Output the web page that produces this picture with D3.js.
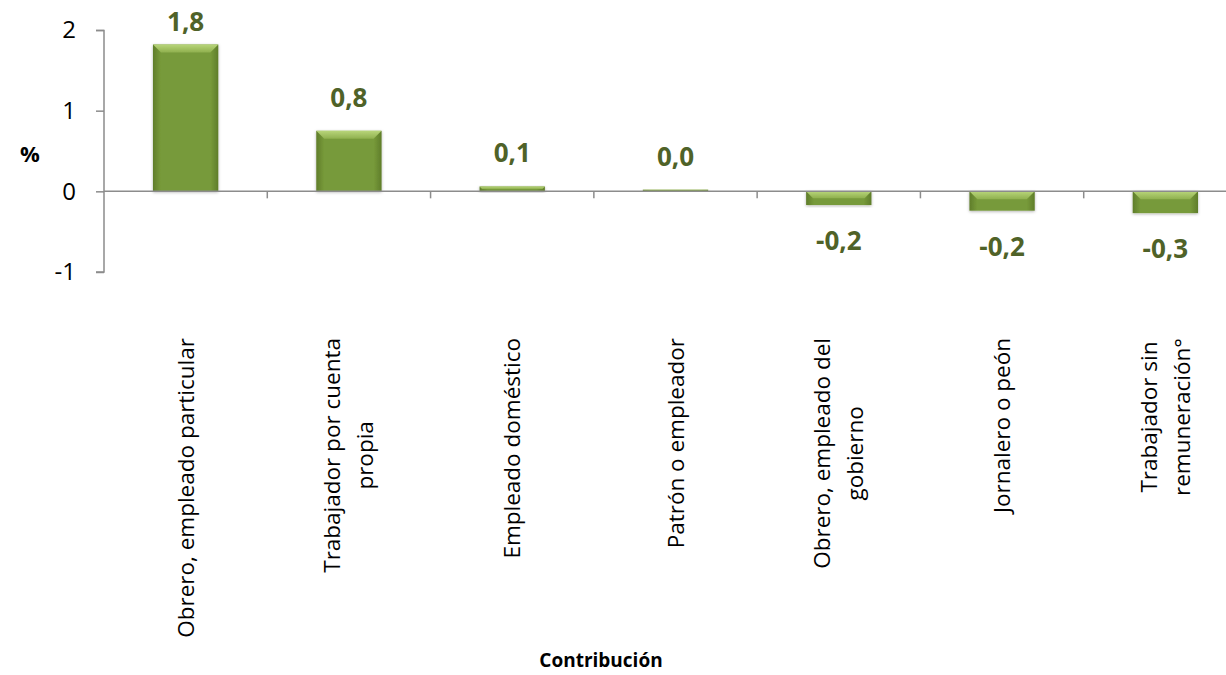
<!DOCTYPE html>
<html>
<head>
<meta charset="utf-8">
<script src="https://cdn.jsdelivr.net/npm/d3@7"></script>
<style>
  body { margin: 0; background: #fff; }
  text { font-family: "Open Sans", sans-serif; }
</style>
</head>
<body>
<svg width="1226" height="675"></svg>
<script>
var categories = [
  ["Obrero, empleado particular"],
  ["Trabajador por cuenta", "propia"],
  ["Empleado doméstico"],
  ["Patrón o empleador"],
  ["Obrero, empleado del", "gobierno"],
  ["Jornalero o peón"],
  ["Trabajador sin", "remuneración°"]
];
var values = [1.82, 0.75, 0.06, 0.02, -0.17, -0.24, -0.27];
var yTicks = [-1, 0, 1, 2];

var svg = d3.select("svg"),
    margin = {top: 30, left: 104},
    plotW = 1143,
    g = svg.append("g").attr("transform", "translate(" + margin.left + "," + margin.top + ")");

var x = d3.scaleBand().domain(d3.range(categories.length)).range([0, plotW]).paddingInner(0.6).paddingOuter(0.3);
var y = d3.scaleLinear().domain([-1, 2]).range([242, 0]);

var defs = svg.append("defs");
var grad = defs.append("linearGradient").attr("id", "barFill").attr("x1", 0).attr("x2", 1).attr("y1", 0).attr("y2", 0);
grad.append("stop").attr("offset", "0%").attr("stop-color", "#5f7d2a");
grad.append("stop").attr("offset", "12%").attr("stop-color", "#779a3a");
grad.append("stop").attr("offset", "88%").attr("stop-color", "#779a3a");
grad.append("stop").attr("offset", "100%").attr("stop-color", "#5f7d2a");
var bev = defs.append("linearGradient").attr("id", "bevel").attr("x1", 0).attr("x2", 0).attr("y1", 0).attr("y2", 1);
bev.append("stop").attr("offset", "0%").attr("stop-color", "#b8d57a");
bev.append("stop").attr("offset", "100%").attr("stop-color", "#8fb04e");
defs.append("filter").attr("id", "shadow").attr("x", "-20%").attr("y", "-20%").attr("width", "140%").attr("height", "140%")
  .append("feDropShadow").attr("dx", 0).attr("dy", 1).attr("stdDeviation", 1.5).attr("flood-color", "#000").attr("flood-opacity", 0.3);

// y axis
var yAxis = g.append("g").call(d3.axisLeft(y).tickValues(yTicks).tickSize(8).tickFormat(function(d) { return String(d); }));
yAxis.select(".domain").attr("stroke", "#8c8c8c").attr("stroke-width", 1.5).attr("d", "M-8,0.5H0V242H-8");
yAxis.selectAll(".tick line").attr("stroke", "#8c8c8c").attr("stroke-width", 1.5);
yAxis.selectAll(".tick text").attr("font-size", 24).attr("fill", "#000").attr("x", -28).attr("font-family", "Open Sans, sans-serif");

g.append("text").attr("x", -84).attr("y", 132).attr("font-size", 22).attr("font-weight", "bold").text("%");

// bars
var bars = g.selectAll(".bar").data(values).enter().append("g").attr("class", "bar").attr("filter", "url(#shadow)");
bars.append("rect")
  .attr("x", function(d, i) { return x(i); })
  .attr("y", function(d) { return y(Math.max(0, d)); })
  .attr("width", x.bandwidth())
  .attr("height", function(d) { return Math.abs(y(d) - y(0)); })
  .attr("fill", "url(#barFill)");
bars.append("path")
  .attr("fill", "url(#bevel)")
  .attr("d", function(d, i) {
    var x0 = x(i), w = x.bandwidth(), top = y(Math.max(0, d)), h = Math.abs(y(d) - y(0));
    var b = Math.min(8, h / 2);
    return "M" + x0 + "," + top + "H" + (x0 + w) + "L" + (x0 + w - b) + "," + (top + b) + "H" + (x0 + b) + "Z";
  });

// x axis at zero
g.append("line").attr("x1", 0).attr("x2", plotW).attr("y1", y(0)).attr("y2", y(0)).attr("stroke", "#8c8c8c").attr("stroke-width", 1.5);
g.selectAll(".xtick").data(d3.range(1, categories.length)).enter().append("line")
  .attr("x1", function(i) { return x(i) - x.step() * x.paddingInner() / 2; })
  .attr("x2", function(i) { return x(i) - x.step() * x.paddingInner() / 2; })
  .attr("y1", y(0)).attr("y2", y(0) + 7).attr("stroke", "#8c8c8c").attr("stroke-width", 1.5);

// value labels
var fmt = function(d) { return d3.format(".1f")(d).replace(".", ",").replace("−", "-"); };
g.selectAll(".val").data(values).enter().append("text")
  .attr("x", function(d, i) { return x(i) + x.bandwidth() / 2; })
  .attr("y", function(d) { return d >= 0 ? Math.max(y(d) - 24, 1) : y(d) + 45; })
  .attr("text-anchor", "middle").attr("font-size", 26).attr("font-weight", "bold").attr("fill", "#4f6228")
  .text(fmt);

// category labels: block top-aligned under the axis, lines centred within the block
var catTop = 338 - margin.top;
g.selectAll(".cat").data(categories).enter().append("text")
  .attr("font-size", 22.5).attr("text-anchor", "middle")
  .each(function(d, i) {
    var t = d3.select(this), n = d.length;
    d.forEach(function(line, k) {
      t.append("tspan").attr("x", 0).attr("dy", k === 0 ? (8 - (n - 1) * 16.5) : 33).text(line);
    });
    var maxW = d3.max(t.selectAll("tspan").nodes(), function(s) { return s.getComputedTextLength(); });
    var cx = x(i) + x.bandwidth() / 2;
    t.attr("transform", "translate(" + cx + "," + (catTop + maxW / 2) + ") rotate(-90)");
  });

svg.append("text").attr("x", 601).attr("y", 667).attr("text-anchor", "middle").attr("font-size", 19).attr("font-weight", "bold").text("Contribución");
</script>
</body>
</html>
